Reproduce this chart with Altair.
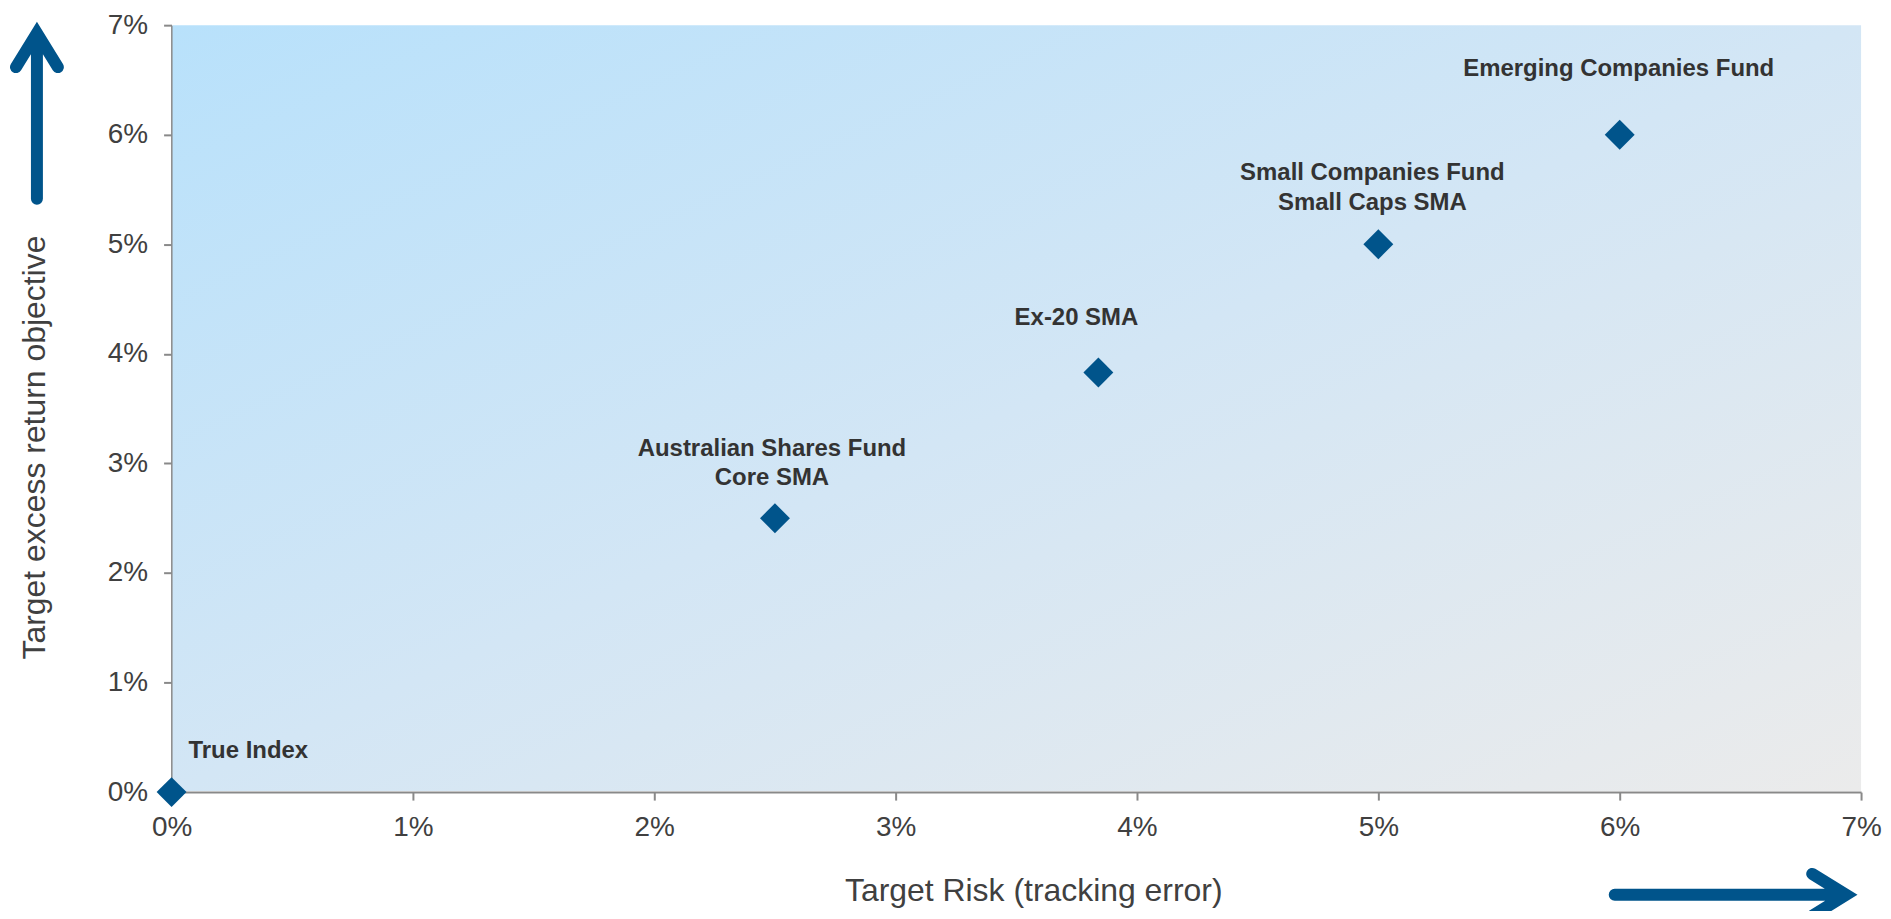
import altair as alt
import pandas as pd

# ---- data ----
names = [
    "True Index",
    "Australian Shares Fund\nCore SMA",
    "Ex-20 SMA",
    "Small Companies Fund\nSmall Caps SMA",
    "Emerging Companies Fund",
]
risk = [0.0, 2.5, 3.84, 5.0, 6.0]      # Target risk (tracking error), %
excess = [0.0, 2.5, 3.83, 5.0, 6.0]    # Target excess return objective, %
x_ticks = [0, 1, 2, 3, 4, 5, 6, 7]
y_ticks = [0, 1, 2, 3, 4, 5, 6, 7]

df = pd.DataFrame({"id": list(range(len(names))), "name": names, "risk": risk, "excess": excess})

W, H = 1694, 769
FONT = "Liberation Sans"
BLUE = "#00548B"
TXT = "#333333"

# label placement styles (offsets in px relative to each point)
label_style = {
    0: dict(align="left", dx=17, dy=-34, lineHeight=29),
    1: dict(align="center", dx=-3, dy=-62, lineHeight=29),
    2: dict(align="center", dx=-22, dy=-48, lineHeight=29),
    3: dict(align="center", dx=-6, dy=-64, lineHeight=30),
    4: dict(align="center", dx=-1, dy=-59, lineHeight=29),
}

xenc = alt.X(
    "risk:Q",
    scale=alt.Scale(domain=[0, 7], nice=False),
    axis=alt.Axis(
        values=x_ticks,
        labelExpr="datum.value + '%'",
        labelFlush=False,
        title="Target Risk (tracking error)",
        titleX=864,
        titleY=99,
        titleBaseline="middle",
        labelPadding=14,
    ),
)
yenc = alt.Y(
    "excess:Q",
    scale=alt.Scale(domain=[0, 7], nice=False),
    axis=alt.Axis(
        values=y_ticks,
        labelExpr="datum.value + '%'",
        labelFlush=False,
        title="Target excess return objective",
        titleX=-137,
        titleY=423,
        titleAngle=-90,
        titleAlign="center",
        titleBaseline="middle",
        labelPadding=16,
    ),
)

one = alt.Data(values=[{"k": 1}])

background = alt.Chart(one).mark_rect(
    fill=alt.LinearGradient(
        gradient="linear",
        stops=[
            alt.GradientStop(color="#B8E1FB", offset=0),
            alt.GradientStop(color="#D3E6F5", offset=0.5),
            alt.GradientStop(color="#EBEBEB", offset=1),
        ],
        x1=0, y1=0, x2=1, y2=1,
    ),
    stroke=None,
).encode(
    x=alt.value(1), x2=alt.value(W), y=alt.value(0), y2=alt.value(H - 1)
)

base = alt.Chart(df).encode(x=xenc, y=yenc)

points = base.mark_point(shape="diamond", filled=True, size=900, color=BLUE, opacity=1)

label_layers = []
for i, st in label_style.items():
    label_layers.append(
        base.transform_filter(alt.datum.id == i).mark_text(
            font=FONT,
            fontSize=24,
            fontWeight="bold",
            color=TXT,
            baseline="alphabetic",
            lineBreak="\n",
            **st,
        ).encode(text="name:N")
    )

up_arrow = alt.Chart(one).mark_point(
    shape="M0,1L0,-1M-0.253,-0.59L0,-1L0.253,-0.59",
    size=166 * 166,
    filled=False,
    stroke=BLUE,
    strokeWidth=12,
    strokeJoin="miter",
    strokeCap="round",
    opacity=1,
).encode(x=alt.value(-135), y=alt.value(91))

right_arrow = alt.Chart(one).mark_point(
    shape="M-1,0L1,0M0.707,-0.181L1,0L0.707,0.181",
    size=232 * 232,
    filled=False,
    stroke=BLUE,
    strokeWidth=12,
    strokeJoin="miter",
    strokeCap="round",
    opacity=1,
).encode(x=alt.value(1563), y=alt.value(872))

chart = alt.layer(background, points, *label_layers, up_arrow, right_arrow).properties(
    width=W,
    height=H,
    autosize=alt.AutoSizeParams(type="none"),
    padding={"left": 164, "top": 16, "right": 22, "bottom": 118},
).configure_view(stroke=None).configure_axis(
    grid=False,
    domainColor="#898989",
    domainWidth=2,
    tickColor="#898989",
    tickWidth=2,
    tickSize=8,
    labelFont=FONT,
    labelFontSize=28,
    labelColor="#404040",
    titleFont=FONT,
    titleFontSize=32,
    titleFontWeight="normal",
    titleColor="#404040",
)

chart.save("out.html", embed_options={"renderer": "svg", "actions": False})
